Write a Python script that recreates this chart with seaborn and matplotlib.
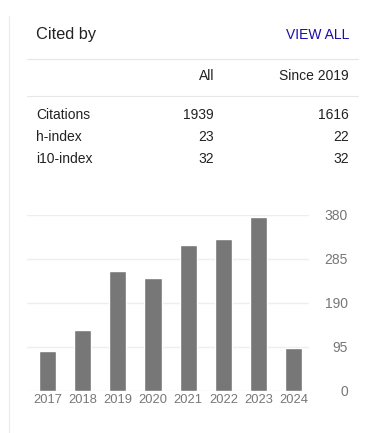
import matplotlib
matplotlib.use("Agg")
import matplotlib.pyplot as plt
import seaborn as sns
import pandas as pd
from matplotlib.lines import Line2D

# Data
years = ["2017", "2018", "2019", "2020", "2021", "2022", "2023", "2024"]
citations = [86, 132, 259, 244, 316, 328, 376, 93]
yticks = [0, 95, 190, 285, 380]

table_cols = ["All", "Since 2019"]
table_rows = ["Citations", "h-index", "i10-index"]
table_all = [1939, 23, 32]
table_since = [1616, 22, 32]

sns.set_theme(style="white")
plt.rcParams["font.family"] = ["Liberation Sans", "DejaVu Sans"]

W, H = 391, 433
fig = plt.figure(figsize=(W / 100, H / 100), dpi=100)
fig.patch.set_facecolor("white")

def fx(px):
    return px / W

def fy(py):
    return 1 - py / H

txt = "#222222"
grey = "#777777"

# left border line
fig.add_artist(Line2D([fx(8.5), fx(8.5)], [fy(16), fy(433)], color="#ebebeb", lw=0.8))

# header
fig.text(fx(36), fy(35), "Cited by", fontsize=11.8, color=txt, va="center", ha="left")
fig.text(fx(349), fy(35), "VIEW ALL", fontsize=10, color="#1a0dab", va="center", ha="right")
for yy in [58.5, 95.5]:
    fig.add_artist(Line2D([fx(27), fx(358)], [fy(yy), fy(yy)], color="#e6e6e6", lw=0.8))

# table
fig.text(fx(214), fy(76.5), table_cols[0], fontsize=10, color=txt, va="center", ha="right")
fig.text(fx(349), fy(76.5), table_cols[1], fontsize=10, color=txt, va="center", ha="right")
row_y = [115, 137, 159]
for name, a, s, yy in zip(table_rows, table_all, table_since, row_y):
    fig.text(fx(36), fy(yy), name, fontsize=10, color=txt, va="center", ha="left")
    fig.text(fx(214), fy(yy), str(a), fontsize=10, color=txt, va="center", ha="right")
    fig.text(fx(349), fy(yy), str(s), fontsize=10, color=txt, va="center", ha="right")

# bar chart
ax = fig.add_axes([fx(27), fy(391), fx(309) - fx(27), fy(215) - fy(391)])
df = pd.DataFrame({"year": years, "citations": citations})
sns.barplot(data=df, x="year", y="citations", color=grey, saturation=1, width=0.49, ax=ax)
ax.set_xlim(-0.58, 7.43)
ax.set_ylim(0, 380)
ax.set_yticks(yticks)
ax.yaxis.tick_right()
ax.tick_params(axis="y", length=0, pad=28, labelsize=10, labelcolor=grey)
for lab in ax.get_yticklabels():
    lab.set_horizontalalignment("right")
ax.tick_params(axis="x", length=0, pad=2, labelsize=9.3, labelcolor=grey)
ax.set_xlabel("")
ax.set_ylabel("")
ax.grid(axis="y", color="#eeeeee", lw=1)
ax.set_axisbelow(True)
for sp in ax.spines.values():
    sp.set_visible(False)
ax.set_facecolor("white")
ax.patch.set_alpha(0)

fig.savefig("out.png", dpi=100)
